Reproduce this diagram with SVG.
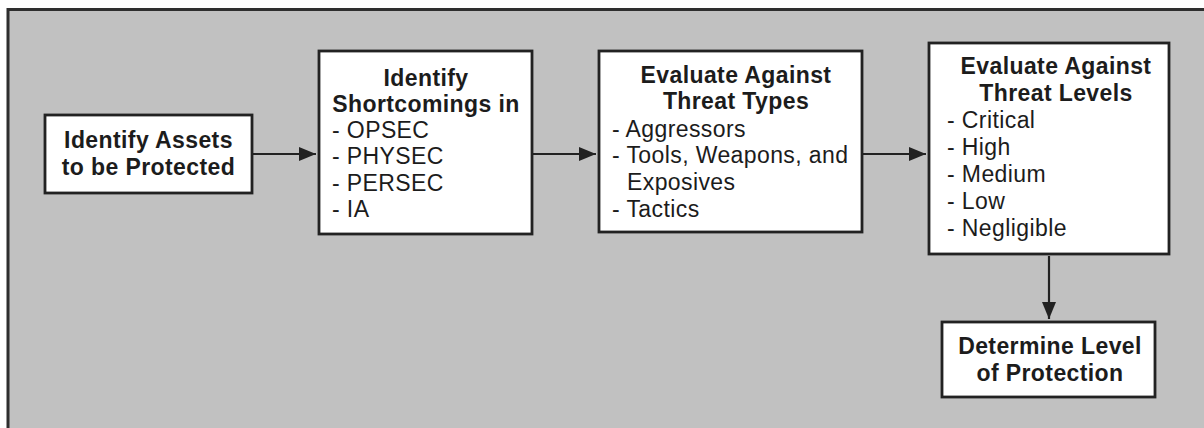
<svg xmlns="http://www.w3.org/2000/svg" width="1204" height="428" viewBox="0 0 1204 428">
<defs>
<style>
.frame{fill:#c1c1c1;stroke:#2e2e2e;stroke-width:3}
.box{fill:#ffffff;stroke:#222222;stroke-width:2.8}
.edge{fill:none;stroke:#222222;stroke-width:2.2}
text{font-family:"Liberation Sans",Arial,sans-serif;font-size:23px;fill:#1c1c1c;letter-spacing:0.4px}
.b{font-weight:bold}
.c{text-anchor:middle}
</style>
<marker id="arr" viewBox="0 0 17 14" refX="17" refY="7" markerWidth="17" markerHeight="14" markerUnits="userSpaceOnUse" orient="auto">
<path d="M0,0 L17,7 L0,14 Z" fill="#222222"/>
</marker>
</defs>
<rect x="0" y="0" width="1204" height="428" fill="#ffffff"/>
<rect class="frame" x="8" y="9.5" width="1210" height="430"/>
<g id="connectors">
<line class="edge" x1="253" y1="154" x2="316" y2="154" marker-end="url(#arr)"/>
<line class="edge" x1="533" y1="154" x2="596" y2="154" marker-end="url(#arr)"/>
<line class="edge" x1="863" y1="154" x2="926" y2="154" marker-end="url(#arr)"/>
<line class="edge" x1="1049" y1="256" x2="1049" y2="319" marker-end="url(#arr)"/>
</g>
<g id="node-assets">
<rect class="box" x="45" y="115" width="207" height="78"/>
<text class="b c" x="148.5" y="148">Identify Assets</text>
<text class="b c" x="148.5" y="175">to be Protected</text>
</g>
<g id="node-shortcomings">
<rect class="box" x="319" y="51" width="213" height="183"/>
<text class="b c" x="426" y="86">Identify</text>
<text class="b c" x="426" y="112">Shortcomings in</text>
<text x="332" y="138">- OPSEC</text>
<text x="332" y="164">- PHYSEC</text>
<text x="332" y="191">- PERSEC</text>
<text x="332" y="217">- IA</text>
</g>
<g id="node-threat-types">
<rect class="box" x="599" y="51" width="263" height="181"/>
<text class="b c" x="736" y="83">Evaluate Against</text>
<text class="b c" x="736" y="109">Threat Types</text>
<text x="612" y="137">- Aggressors</text>
<text x="612" y="163">- Tools, Weapons, and</text>
<text x="627" y="190">Exposives</text>
<text x="612" y="217">- Tactics</text>
</g>
<g id="node-threat-levels">
<rect class="box" x="929" y="43" width="240" height="211"/>
<text class="b c" x="1056" y="74">Evaluate Against</text>
<text class="b c" x="1056" y="101">Threat Levels</text>
<text x="947" y="128">- Critical</text>
<text x="947" y="155">- High</text>
<text x="947" y="182">- Medium</text>
<text x="947" y="209">- Low</text>
<text x="947" y="236">- Negligible</text>
</g>
<g id="node-protection">
<rect class="box" x="942" y="322" width="213" height="75"/>
<text class="b c" x="1050" y="354">Determine Level</text>
<text class="b c" x="1050" y="381">of Protection</text>
</g>
</svg>
